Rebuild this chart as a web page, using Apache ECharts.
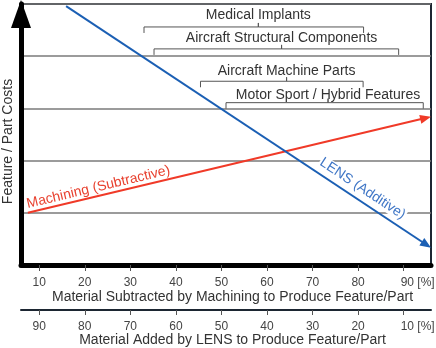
<!DOCTYPE html>
<html>
<head>
<meta charset="utf-8">
<script src="https://cdn.jsdelivr.net/npm/echarts@6/dist/echarts.min.js"></script>
<style>html,body{margin:0;padding:0;background:#fff}#c{width:436px;height:348px}</style>
</head>
<body>
<div id="c"></div>
<script>
// ---- data ----
var subtractedTicks = [10, 20, 30, 40, 50, 60, 70, 80, 90];
var addedTicks = [90, 80, 70, 60, 50, 40, 30, 20, 10];
var machiningX = [7.5, 96];
var machiningY = [1.0, 2.84];
var lensX = [15.9, 96];
var lensY = [4.96, 0.33];
var bracketNames = ['Medical Implants', 'Aircraft Structural Components', 'Aircraft Machine Parts', 'Motor Sport / Hybrid Features'];
var bracketStart = [33.0, 35.2, 45.4, 51.0];
var bracketEnd = [81.2, 88.9, 81.1, 94.3];
var bracketMid = [58.1, 63.2, 64.3, 73.4];
var bracketLevel = [4.56, 4.14, 3.52, 3.11];
var bracketLabelLevel = [4.79, 4.35, 3.72, 3.26];

var FONT = "'Liberation Sans', Arial, sans-serif";
var chart = echarts.init(document.getElementById('c'), null, {renderer: 'canvas'});

function arrowLine(color, label, textColor, frac, off) {
  return function (params, api) {
    var p0 = api.coord([api.value(0), api.value(1)]);
    var p1 = api.coord([api.value(2), api.value(3)]);
    var dx = p1[0] - p0[0], dy = p1[1] - p0[1];
    var len = Math.sqrt(dx * dx + dy * dy);
    var ux = dx / len, uy = dy / len;
    var L = 11, W = 4.5;
    var bx = p1[0] - ux * L, by = p1[1] - uy * L;
    var nx = -uy, ny = ux;
    var cx = p0[0] + dx * frac + uy * off;
    var cy = p0[1] + dy * frac - ux * off;
    return {
      type: 'group',
      children: [
        {type: 'text', x: cx, y: cy, rotation: Math.atan2(-dy, dx),
          style: {text: label, fill: textColor, font: '14px ' + FONT, align: 'center', verticalAlign: 'middle', backgroundColor: '#fff', padding: [0, 1]}},
        {type: 'line', shape: {x1: p0[0], y1: p0[1], x2: bx + ux * 1, y2: by + uy * 1},
          style: {stroke: color, lineWidth: 2}},
        {type: 'polygon', shape: {points: [[p1[0], p1[1]], [bx + nx * W, by + ny * W], [bx - nx * W, by - ny * W]]},
          style: {fill: color}}
      ]
    };
  };
}

function bracketItem(params, api) {
  var y = api.value(3);
  var a = api.coord([api.value(0), y]);
  var b = api.coord([api.value(1), y]);
  var m = api.coord([api.value(2), y]);
  var t = api.coord([api.value(2), api.value(4)]);
  return {
    type: 'group',
    children: [
      {type: 'polyline', shape: {points: [[a[0], a[1] + 6], [a[0], a[1]], [m[0], m[1]], [m[0], m[1] - 4], [m[0], m[1]], [b[0], b[1]], [b[0], b[1] + 6]]},
        style: {stroke: '#555', lineWidth: 1, fill: null}},
      {type: 'text', x: t[0], y: t[1],
        style: {text: bracketNames[params.dataIndex], fill: '#333', font: '14px ' + FONT, align: 'center', verticalAlign: 'middle'}}
    ]
  };
}

var bracketData = bracketNames.map(function (n, i) {
  return [bracketStart[i], bracketEnd[i], bracketMid[i], bracketLevel[i], bracketLabelLevel[i]];
});

var option = {
  animation: false,
  textStyle: {fontFamily: FONT},
  grid: {left: 21, right: 5, top: 4, bottom: 83, show: true, borderColor: '#1c2632', borderWidth: 2, backgroundColor: '#fff',
    containLabel: false, outerBoundsMode: 'none'},
  xAxis: [{
    type: 'value', min: 6, max: 96, position: 'bottom',
    axisLine: {lineStyle: {color: '#000', width: 5}},
    axisTick: {customValues: subtractedTicks, length: 6, lineStyle: {color: '#555', width: 1}},
    axisLabel: {customValues: subtractedTicks, margin: 12, color: '#444', fontSize: 12,
      formatter: function (v) { return v === 90 ? '{p|90 [%]}' : String(v); },
      rich: {p: {padding: [0, 0, 0, 28], color: '#444', fontSize: 12}}},
    splitLine: {show: false},
    name: 'Material Subtracted by Machining to Produce Feature/Part', nameLocation: 'middle', nameGap: 25, nameMoveOverlap: false,
    nameTextStyle: {color: '#333', fontSize: 14, padding: [0, 0, 0, 13]}
  }, {
    type: 'value', min: 4, max: 94, inverse: true, position: 'bottom', offset: 45,
    axisLine: {lineStyle: {color: '#1c2632', width: 2}},
    axisTick: {customValues: addedTicks, length: 5, lineStyle: {color: '#555', width: 1}},
    axisLabel: {customValues: addedTicks, margin: 11, color: '#444', fontSize: 12,
      formatter: function (v) { return v === 10 ? '{p|10 [%]}' : String(v); },
      rich: {p: {padding: [0, 0, 0, 28], color: '#444', fontSize: 12}}},
    splitLine: {show: false},
    name: 'Material Added by LENS to Produce Feature/Part', nameLocation: 'middle', nameGap: 23, nameMoveOverlap: false,
    nameTextStyle: {color: '#333', fontSize: 14, padding: [0, 0, 0, 13]}
  }],
  yAxis: {
    type: 'value', min: 0, max: 5, interval: 1,
    axisLine: {show: true, lineStyle: {color: '#000', width: 5}, symbol: ['none', 'triangle'], symbolSize: [20, 28], symbolOffset: [0, -10]},
    axisTick: {show: false},
    axisLabel: {show: false},
    splitLine: {show: true, lineStyle: {color: '#7a7a7a', width: 1.5}},
    name: 'Feature / Part Costs', nameLocation: 'middle', nameRotate: 90, nameGap: 6,
    nameTextStyle: {color: '#333', fontSize: 14, padding: [0, 14, 0, 0]}
  },
  series: [
    {type: 'custom', name: 'brackets', renderItem: bracketItem, data: bracketData, clip: false, z: 3},
    {type: 'custom', name: 'Machining (Subtractive)', clip: false, z: 4,
      renderItem: arrowLine('#f03a28', 'Machining (Subtractive)', '#e8412f', 0.18, 8.5),
      data: [[machiningX[0], machiningY[0], machiningX[1], machiningY[1]]]},
    {type: 'custom', name: 'LENS (Additive)', clip: false, z: 4,
      renderItem: arrowLine('#1b5fb4', 'LENS (Additive)', '#3f76c6', 0.795, 11.5),
      data: [[lensX[0], lensY[0], lensX[1], lensY[1]]]}
  ]
};
chart.setOption(option);
</script>
</body>
</html>
